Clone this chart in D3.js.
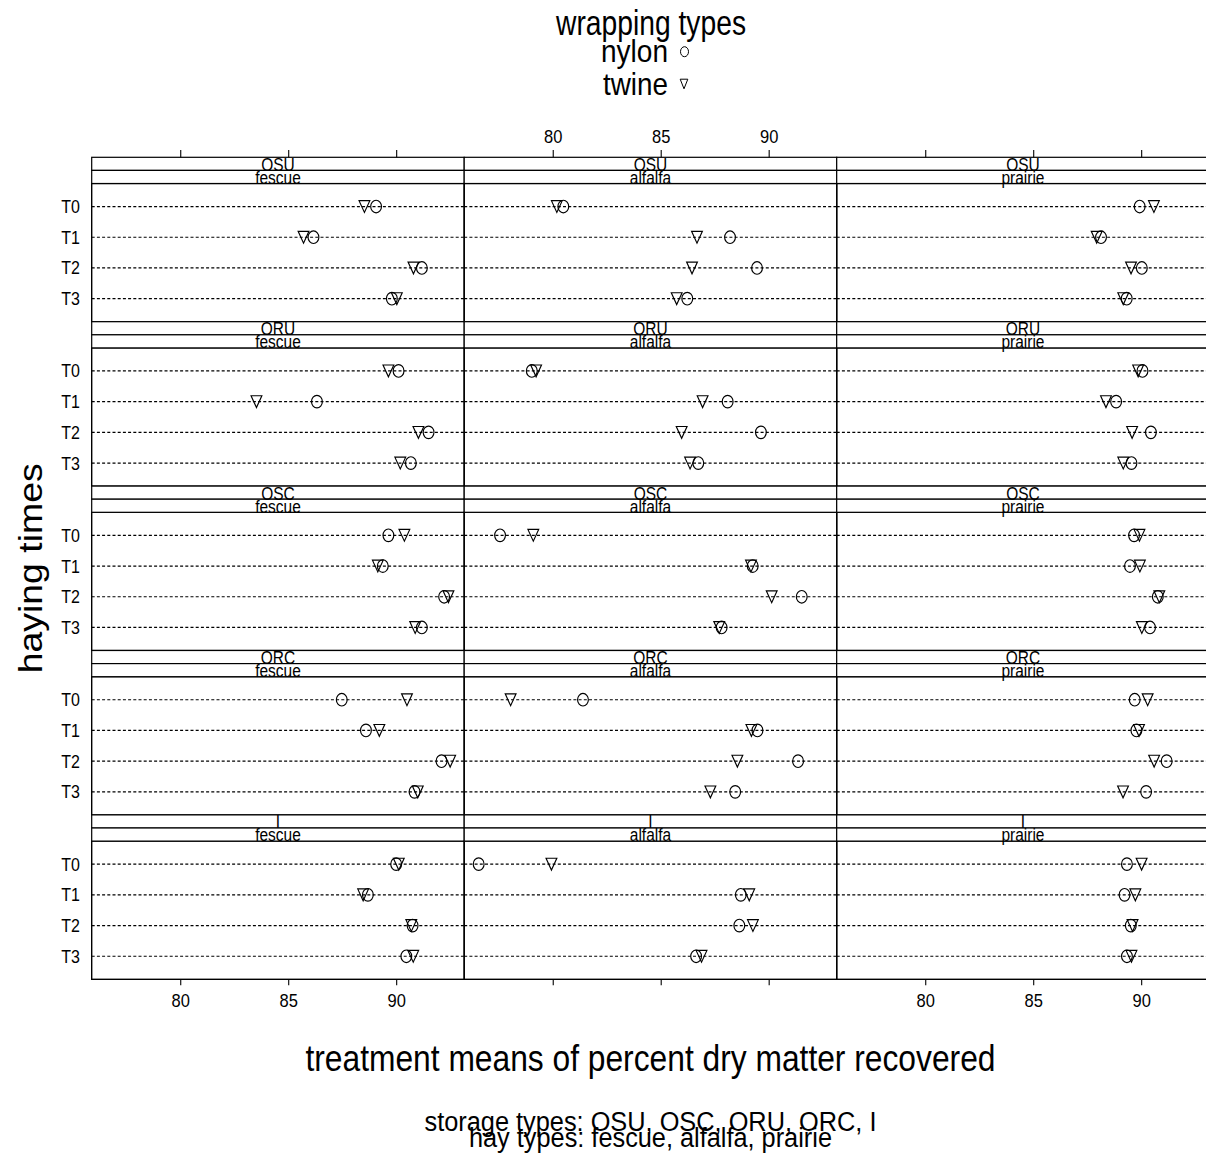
<!DOCTYPE html>
<html><head><meta charset="utf-8">
<script src="https://cdn.jsdelivr.net/npm/d3@7"></script>
<style>
body{margin:0;background:#fff}
svg{display:block}
text{font-family:"Liberation Sans",Arial,Helvetica,sans-serif;fill:#000}
</style>
</head><body>
<svg id="c" width="1206" height="1157"></svg>
<script>
// ---------------- data ----------------
const storageTypes = ["OSU", "ORU", "OSC", "ORC", "I"];          // panel rows, top to bottom
const storageLevels = ["OSU", "OSC", "ORU", "ORC", "I"];         // order in the footnote
const hayTypes = ["fescue", "alfalfa", "prairie"];
const hayingTimes = ["T0", "T1", "T2", "T3"];
const wrappingTypes = ["nylon", "twine"];
const xTicks = [80, 85, 90];

// values: fescue T0..T3, alfalfa T0..T3, prairie T0..T3
const nylonOSU = [89.07, 86.17, 91.19, 89.80,  80.49, 88.21, 89.46, 86.23,  89.93, 88.14, 90.03, 89.33];
const twineOSU = [88.53, 85.71, 90.80, 90.03,  80.19, 86.68, 86.45, 85.74,  90.59, 87.94, 89.53, 89.17];
const nylonORU = [90.11, 86.33, 91.50, 90.68,  79.03, 88.10, 89.64, 86.74,  90.06, 88.84, 90.45, 89.55];
const twineORU = [89.64, 83.53, 91.03, 90.19,  79.23, 86.94, 85.97, 86.36,  89.86, 88.37, 89.58, 89.17];
const nylonOSC = [89.64, 89.38, 92.22, 91.19,  77.56, 89.26, 91.53, 87.82,  89.67, 89.48, 90.77, 90.41];
const twineOSC = [90.38, 89.15, 92.42, 90.88,  79.10, 89.18, 90.14, 87.71,  89.92, 89.94, 90.84, 90.03];
const nylonORC = [87.48, 88.60, 92.10, 90.85,  81.40, 89.48, 91.36, 88.45,  89.70, 89.78, 91.18, 90.23];
const twineORC = [90.50, 89.22, 92.50, 91.00,  78.05, 89.20, 88.55, 87.30,  90.30, 89.90, 90.60, 89.16];
const nylonI   = [90.00, 88.69, 90.76, 90.47,  76.57, 88.71, 88.64, 86.64,  89.34, 89.23, 89.52, 89.34];
const twineI   = [90.12, 88.47, 90.70, 90.79,  79.94, 89.10, 89.27, 86.89,  90.02, 89.73, 89.60, 89.55];

const nylonByStorage = [nylonOSU, nylonORU, nylonOSC, nylonORC, nylonI];
const twineByStorage = [twineOSU, twineORU, twineOSC, twineORC, twineI];

// ---------------- layout ----------------
const svg = d3.select("#c");
svg.append("rect").attr("width", 1206).attr("height", 1157).attr("fill", "#fff");

const colLeft = 91.7, colW = 372.5, rowTop = 157.3, rowH = 164.4, stripH = 13.1;
const xDomain = [75.9, 93.15];

function stxt(g, str, x, y, size, sy, anchor, len, rot) {
  const t = g.append("text")
    .attr("transform", `translate(${x},${y})${rot ? ` rotate(${rot})` : ""} scale(1,${sy})`)
    .attr("text-anchor", anchor)
    .style("font-size", size + "px")
    .text(str);
  if (len) t.attr("textLength", len).attr("lengthAdjust", "spacingAndGlyphs");
  return t;
}

function tri(cx, cy, hw, hh) {
  return `M${cx - hw},${cy - hh}L${cx + hw},${cy - hh}L${cx},${cy + hh}Z`;
}

const plot = svg.append("g");

storageTypes.forEach((st, r) => {
  const top = rowTop + r * rowH;
  const bodyTop = top + 2 * stripH;
  const bottom = top + rowH;
  const y = d3.scalePoint().domain(hayingTimes).range([bodyTop, bottom]).padding(0.75);

  hayTypes.forEach((hay, c) => {
    const left = colLeft + c * colW;
    const x = d3.scaleLinear().domain(xDomain).range([left, left + colW]);
    const g = plot.append("g");

    // dotted reference lines
    hayingTimes.forEach(t => {
      g.append("line")
        .attr("x1", left).attr("x2", left + colW)
        .attr("y1", y(t)).attr("y2", y(t))
        .attr("stroke", "#000").attr("stroke-width", 1.2)
        .attr("stroke-dasharray", "3,2.2");
    });

    const nyl = nylonByStorage[r].slice(c * 4, c * 4 + 4);
    const twn = twineByStorage[r].slice(c * 4, c * 4 + 4);

    g.selectAll("ellipse.ny").data(nyl).join("ellipse")
      .attr("cx", d => x(d)).attr("cy", (d, i) => y(hayingTimes[i]))
      .attr("rx", 5.4).attr("ry", 6.3)
      .attr("fill", "none").attr("stroke", "#000").attr("stroke-width", 1.15);

    g.selectAll("path.tw").data(twn).join("path")
      .attr("d", (d, i) => tri(x(d), y(hayingTimes[i]), 5.4, 5.9))
      .attr("fill", "none").attr("stroke", "#000").attr("stroke-width", 1.15);

    // panel frame
    g.append("rect").attr("x", left).attr("y", bodyTop).attr("width", colW).attr("height", bottom - bodyTop)
      .attr("fill", "none").attr("stroke", "#000").attr("stroke-width", 1.4);

    // strips
    g.append("rect").attr("x", left).attr("y", top).attr("width", colW).attr("height", stripH)
      .attr("fill", "#fff").attr("stroke", "#000").attr("stroke-width", 1.2);
    g.append("rect").attr("x", left).attr("y", top + stripH).attr("width", colW).attr("height", stripH)
      .attr("fill", "#fff").attr("stroke", "#000").attr("stroke-width", 1.2);
    stxt(g, st, left + colW / 2, top + stripH + 0.3, 15.5, 1.18, "middle");
    stxt(g, hay, left + colW / 2, top + 2 * stripH + 0.3, 15.5, 1.18, "middle");

    // left labels
    if (c === 0) {
      hayingTimes.forEach(t => {
        stxt(plot, t, 80, y(t) + 6.5, 16, 1.12, "end");
      });
    }

    // top axis (first row)
    if (r === 0) {
      const ax = d3.axisTop(x).tickValues(xTicks).tickSize(7.3).tickPadding(0)
        .tickFormat(d => (c === 1 ? d : ""));
      const ga = plot.append("g").attr("transform", `translate(0,${top})`).call(ax);
      ga.select(".domain").remove();
      ga.selectAll("line").attr("stroke", "#000").attr("stroke-width", 1.1);
      ga.selectAll("text").attr("y", null).attr("dy", null)
        .attr("transform", "translate(0,-14) scale(1,1.13)")
        .style("font-size", "16.5px").attr("fill", "#000");
      ga.attr("font-family", null).attr("font-size", null);
    }
    // bottom axis (last row)
    if (r === storageTypes.length - 1) {
      const ax = d3.axisBottom(x).tickValues(xTicks).tickSize(6).tickPadding(0)
        .tickFormat(d => (c !== 1 ? d : ""));
      const ga = plot.append("g").attr("transform", `translate(0,${bottom})`).call(ax);
      ga.select(".domain").remove();
      ga.selectAll("line").attr("stroke", "#000").attr("stroke-width", 1.1);
      ga.selectAll("text").attr("y", null).attr("dy", null)
        .attr("transform", "translate(0,27.4) scale(1,1.13)")
        .style("font-size", "16.5px").attr("fill", "#000");
      ga.attr("font-family", null).attr("font-size", null);
    }
  });
});

// ---------------- titles & legend ----------------
const center = colLeft + 1.5 * colW;
stxt(svg, "wrapping types", 651, 35, 29, 1.2, "middle", 190);
stxt(svg, wrappingTypes[0], 668, 62, 28, 1.12, "end", 67);
stxt(svg, wrappingTypes[1], 668, 95, 28, 1.12, "end", 65);
svg.append("ellipse").attr("cx", 684.5).attr("cy", 51.7).attr("rx", 4).attr("ry", 5)
  .attr("fill", "none").attr("stroke", "#000").attr("stroke-width", 1);
svg.append("path").attr("d", tri(684, 84, 3.8, 4.8))
  .attr("fill", "none").attr("stroke", "#000").attr("stroke-width", 1);

stxt(svg, "treatment means of percent dry matter recovered", center, 1071, 31.5, 1.2, "middle", 690);
stxt(svg, "haying times", 42, rowTop + 2.5 * rowH, 33, 1.0, "middle", 210, -90);
stxt(svg, "storage types: " + storageLevels.join(", "), center, 1131, 25, 1.12, "middle", 452);
stxt(svg, "hay types: " + hayTypes.join(", "), center, 1147, 25, 1.12, "middle", 363);
</script>
</body></html>
